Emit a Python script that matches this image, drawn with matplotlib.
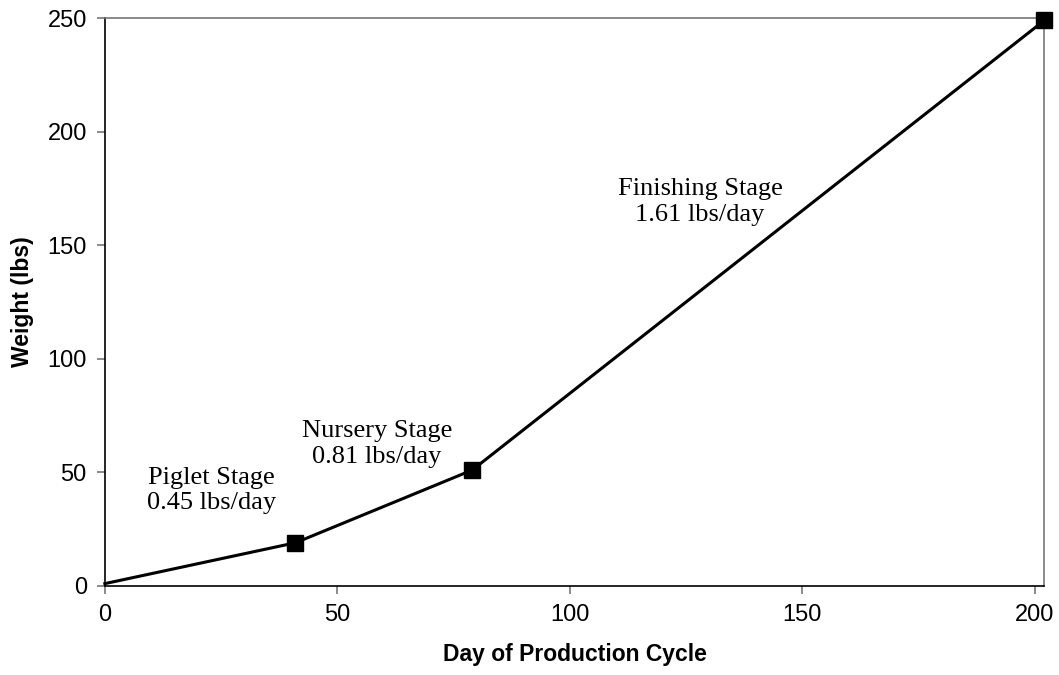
import matplotlib.pyplot as plt

# growth curve data (day, weight in lbs)
days = [0, 41, 79, 202]
weights = [1, 19, 51, 249]

# stage labels and where they sit
stage_labels = ["Piglet Stage\n0.45 lbs/day",
                "Nursery Stage\n0.81 lbs/day",
                "Finishing Stage\n1.61 lbs/day"]
label_x = [23, 58.5, 128]
label_y = [42, 62.5, 169]

fig = plt.figure(figsize=(10.59, 6.75), dpi=100)
ax = fig.add_axes([0.099, 0.132, 0.887, 0.841])

ax.plot(days, weights, color='black', linewidth=2.2, zorder=2, clip_on=False)
ax.plot(days[1:], weights[1:], linestyle='none', marker='s', markersize=11,
        color='black', zorder=3, clip_on=False)

for txt, x, y in zip(stage_labels, label_x, label_y):
    ax.text(x, y, txt, ha='center', va='center', fontsize=19,
            family='Liberation Serif', linespacing=1.2)

ax.set_xlim(0, 202)
ax.set_ylim(0, 250)
ax.set_xticks([0, 50, 100, 150, 200])
ax.set_yticks([0, 50, 100, 150, 200, 250])

for side in ['top', 'right']:
    ax.spines[side].set_color('#777777')
    ax.spines[side].set_linewidth(1.2)
for side in ['left', 'bottom']:
    ax.spines[side].set_color('black')
    ax.spines[side].set_linewidth(1.2)

ax.tick_params(direction='out', length=6, width=1.2, color='#777777',
               labelsize=17, pad=7)
for lab in ax.get_xticklabels() + ax.get_yticklabels():
    lab.set_family('Liberation Sans')

ax.set_xlabel("Day of Production Cycle", fontsize=16.5, fontweight='bold',
              family='Liberation Sans', labelpad=12)
ax.set_ylabel("Weight (lbs)", fontsize=16.5, fontweight='bold',
              family='Liberation Sans', labelpad=10)

fig.savefig("out.png", dpi=100)
